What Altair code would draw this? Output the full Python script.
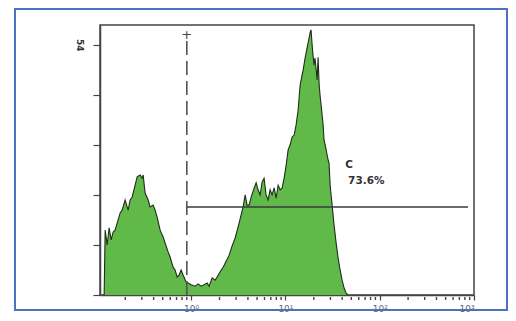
import altair as alt
import pandas as pd

# Histogram: fluorescence intensity (log axis) vs. event count
fl = [0.1195, 0.1225, 0.1286, 0.135, 0.1418, 0.149, 0.156, 0.168, 0.1767, 0.1855,
      0.1995, 0.2147, 0.2254, 0.2366, 0.2547, 0.2675, 0.2877, 0.302, 0.31, 0.325,
      0.35, 0.367, 0.395, 0.415, 0.436, 0.469, 0.505, 0.53, 0.57, 0.598,
      0.644, 0.676, 0.711, 0.746, 0.783, 0.822, 0.885, 0.929, 1.0, 1.10,
      1.186, 1.276, 1.374, 1.478, 1.552, 1.67, 1.797, 1.887, 2.03, 2.185,
      2.35, 2.53, 2.72, 2.93, 3.15, 3.39, 3.56, 3.74, 3.92, 4.12,
      4.33, 4.66, 4.89, 5.13, 5.39, 5.66, 5.94, 6.24, 6.55, 6.88,
      7.22, 7.59, 7.97, 8.37, 8.79, 9.23, 9.69, 10.17, 10.68, 11.22,
      11.78, 12.37, 12.98, 13.64, 14.32, 15.03, 15.40, 16.17, 16.98, 17.8,
      18.3, 18.7, 19.2, 19.6, 20.1, 20.6, 21.2, 21.7, 22.2, 22.8,
      23.3, 23.9, 24.5, 25.1, 25.7, 26.4, 27.7, 28.4, 29.0, 29.8,
      30.5, 31.3, 32.8, 34.5, 36.2, 38.0, 39.9, 41.9, 44.0, 46.1]
counts = [0, 14.0, 10.8, 14.5, 11.9, 13.6, 14.0, 16.2, 17.7, 18.3,
          20.5, 18.3, 20.5, 21.1, 23.7, 25.5, 25.9, 25.2, 25.9, 22.0,
          20.5, 19.0, 19.4, 18.3, 16.8, 14.0, 12.5, 11.2, 9.3, 8.2,
          6.0, 5.4, 3.9, 4.3, 5.4, 4.3, 2.8, 2.6, 2.2, 1.9,
          2.4, 1.9, 2.2, 2.6, 1.9, 3.7, 3.2, 3.9, 5.0, 6.0,
          7.3, 8.6, 10.6, 12.3, 14.7, 17.3, 19.0, 21.6, 19.4, 19.4,
          21.1, 23.1, 24.2, 22.7, 21.6, 24.4, 25.2, 21.6, 20.5, 22.7,
          21.6, 23.1, 20.9, 23.7, 22.7, 23.1, 25.2, 28.0, 31.3, 32.4,
          34.1, 34.5, 36.7, 39.9, 45.3, 47.5, 48.5, 51.1, 53.3, 55.4,
          56.7, 57.2, 53.9, 51.8, 49.6, 51.1, 48.5, 46.4, 51.3, 45.3,
          43.1, 41.0, 38.8, 36.7, 33.4, 32.4, 30.2, 29.1, 28.5, 23.7,
          21.6, 19.4, 15.1, 11.2, 8.0, 5.4, 3.2, 1.5, 0.4, 0]

x_major = [1, 10, 100, 1000]
x_minor = [0.2, 0.3, 0.4, 0.5, 0.6, 0.7, 0.8, 0.9,
           2, 3, 4, 5, 6, 7, 8, 9,
           20, 30, 40, 50, 60, 70, 80, 90,
           200, 300, 400, 500, 600, 700, 800, 900]
y_ticks = [0, 10.8, 21.6, 32.4, 43.2, 54]

gate_x = 0.9
gate_x_end = 865
gate_y = 19.0
gate_name = "C"
gate_pct = "73.6%"

hist = pd.DataFrame({"fl": fl, "count": counts})

W, H = 374, 270
x_scale = alt.Scale(type="log", domain=[0.108, 1000], nice=False)
y_scale = alt.Scale(domain=[0, 58.25], nice=False, zero=True)

x_axis = alt.Axis(
    values=x_major, title=None, grid=False, tickSize=5, tickWidth=1.2,
    labelExpr="datum.value == 1 ? '10⁰' : datum.value == 10 ? '10¹' : datum.value == 100 ? '10²' : '10³'",
    labelFontSize=9, labelColor="#666", labelPadding=4, labelFont="DejaVu Sans",
)
y_axis = alt.Axis(
    values=y_ticks, title=None, grid=False, tickSize=7, tickWidth=1.2,
    labelExpr="datum.value == 54 ? '54' : ''", labelAngle=90,
    labelFontSize=9, labelFontWeight="bold", labelColor="#333", labelPadding=10,
    labelFont="DejaVu Sans",
)

border = alt.Chart(pd.DataFrame({"k": [0]})).mark_rect(
    fill=None, stroke="#4a72c0", strokeWidth=2, clip=False
).encode(
    x=alt.value(-85), x2=alt.value(407), y=alt.value(-16), y2=alt.value(285)
)

area = alt.Chart(hist).mark_area(color="#60b948", interpolate="linear").encode(
    x=alt.X("fl:Q", scale=x_scale, axis=x_axis),
    y=alt.Y("count:Q", scale=y_scale, axis=y_axis),
)
outline = alt.Chart(hist).mark_line(color="#1f2e18", strokeWidth=1.1, interpolate="linear").encode(
    x=alt.X("fl:Q", scale=x_scale),
    y=alt.Y("count:Q", scale=y_scale),
)

minor = alt.Chart(pd.DataFrame({"v": x_minor})).mark_rule(color="#444", strokeWidth=1.4).encode(
    x=alt.X("v:Q", scale=x_scale), y=alt.value(H + 2), y2=alt.value(H + 5)
)

vgate = alt.Chart(pd.DataFrame({"x": [gate_x]})).mark_rule(
    color="#555", strokeWidth=1.6, strokeDash=[14, 6]
).encode(x=alt.X("x:Q", scale=x_scale), y=alt.value(16), y2=alt.value(H))

plus = alt.Chart(pd.DataFrame({"x": [gate_x], "y": [56.1], "t": ["+"]})).mark_text(
    fontSize=13, color="#444", font="DejaVu Sans"
).encode(x=alt.X("x:Q", scale=x_scale), y=alt.Y("y:Q", scale=y_scale), text="t:N")

hgate = alt.Chart(pd.DataFrame({"x": [gate_x], "x2": [gate_x_end], "y": [gate_y]})).mark_rule(
    color="#3a3a3a", strokeWidth=1.5
).encode(x=alt.X("x:Q", scale=x_scale), x2="x2:Q", y=alt.Y("y:Q", scale=y_scale))

labels = alt.Chart(pd.DataFrame({
    "x": [43, 46.2], "y": [28.0, 24.7], "t": [gate_name, gate_pct]
})).mark_text(
    align="left", fontSize=10.5, fontWeight="bold", color="#333", font="DejaVu Sans"
).encode(x=alt.X("x:Q", scale=x_scale), y=alt.Y("y:Q", scale=y_scale), text="t:N")

chart = alt.layer(border, area, outline, minor, vgate, plus, hgate, labels).properties(
    width=W, height=H,
    padding={"left": 92, "top": 17, "right": 34, "bottom": 18},
    autosize=alt.AutoSizeParams(type="none"),
).configure_view(
    stroke="#444", strokeWidth=1.5
).configure_axis(
    domainColor="#444", domainWidth=1.5, tickColor="#444"
)

chart.save("out.html", embed_options={"renderer": "svg", "actions": False})
